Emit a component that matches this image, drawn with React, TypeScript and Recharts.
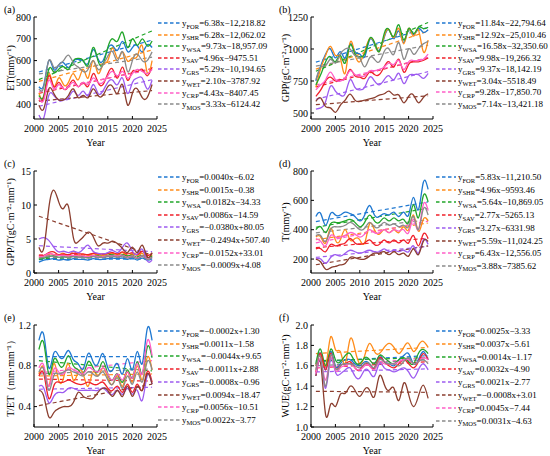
import { LineChart, Line, XAxis, YAxis, ReferenceLine } from 'recharts'

const FONT = '"Liberation Serif", "Times New Roman", serif'

const years = [2001, 2002, 2003, 2004, 2005, 2006, 2007, 2008, 2009, 2010, 2011, 2012, 2013, 2014, 2015, 2016, 2017, 2018, 2019, 2020, 2021, 2022, 2023, 2024]
const xTicks = [2000, 2005, 2010, 2015, 2020, 2025]
const types = ['FOR', 'SHR', 'WSA', 'SAV', 'GRS', 'WET', 'CRP', 'MOS']
const colors = ['#1f78d1', '#ff8c1a', '#22a62a', '#f0202a', '#9d5cf0', '#8b3e2f', '#ff5fc8', '#8a8a8a']

// (a) ET
const etFOR = [480, 490, 600, 560, 578, 590, 568, 598, 605, 598, 588, 650, 608, 598, 655, 668, 648, 688, 642, 660, 668, 640, 672, 660]
const etSHR = [452, 432, 540, 482, 520, 490, 500, 540, 512, 560, 520, 600, 542, 580, 600, 658, 610, 640, 598, 612, 620, 668, 545, 600]
const etWSA = [440, 440, 560, 548, 560, 572, 560, 600, 610, 600, 580, 660, 600, 582, 660, 700, 690, 730, 660, 700, 670, 700, 668, 690]
const etSAV = [420, 430, 530, 480, 500, 470, 482, 510, 480, 500, 482, 540, 500, 490, 540, 560, 520, 570, 510, 550, 550, 560, 530, 570]
const etGRS = [350, 338, 440, 440, 420, 420, 430, 460, 440, 460, 440, 490, 450, 460, 500, 510, 490, 520, 450, 500, 520, 520, 470, 510]
const etWET = [395, 380, 470, 450, 420, 420, 440, 470, 430, 440, 430, 470, 440, 440, 480, 480, 450, 490, 397, 450, 470, 430, 430, 490]
const etCRP = [430, 420, 510, 470, 490, 470, 480, 500, 480, 500, 490, 520, 500, 500, 530, 550, 530, 550, 520, 540, 560, 550, 540, 560]
const etMOS = [470, 480, 600, 570, 580, 600, 625, 590, 570, 550, 560, 600, 560, 580, 620, 640, 600, 640, 550, 600, 630, 600, 600, 640]
const etEq = ['=6.38x−12,218.82', '=6.28x−12,062.02', '=9.73x−18,957.09', '=4.96x−9475.51', '=5.29x−10,194.65', '=2.10x−3787.92', '=4.43x−8407.45', '=3.33x−6124.42']
const etTrendStart = [547.6, 504.3, 512.6, 449.5, 390.6, 414.2, 457.0, 538.9]
const etTrendEnd = [694.3, 648.7, 736.4, 563.5, 512.3, 462.5, 558.9, 615.5]

// (b) GPP
const gppFOR = [750, 870, 960, 1000, 930, 980, 930, 1040, 980, 960, 940, 1070, 1040, 990, 1090, 1150, 1080, 1140, 1050, 1150, 1110, 1160, 1130, 1150]
const gppSHR = [700, 850, 950, 1020, 950, 930, 810, 1050, 960, 900, 980, 1080, 1050, 980, 1100, 1150, 1090, 1160, 1040, 1160, 1100, 1150, 980, 1070]
const gppWSA = [720, 800, 900, 940, 900, 950, 890, 1030, 960, 940, 960, 1080, 1050, 980, 1120, 1150, 1100, 1190, 1070, 1160, 1120, 1170, 1160, 1170]
const gppSAV = [630, 680, 750, 780, 750, 760, 770, 840, 790, 780, 770, 820, 800, 800, 860, 900, 860, 920, 820, 880, 900, 900, 910, 930]
const gppGRS = [530, 540, 590, 710, 670, 640, 650, 760, 700, 680, 700, 780, 750, 720, 760, 790, 760, 810, 730, 790, 800, 800, 770, 810]
const gppWET = [590, 617, 550, 540, 505, 560, 600, 648, 600, 590, 600, 610, 620, 640, 650, 670, 640, 640, 580, 630, 640, 580, 620, 650]
const gppCRP = [680, 720, 760, 820, 760, 750, 770, 830, 800, 790, 790, 830, 830, 840, 860, 890, 880, 910, 840, 900, 910, 910, 920, 960]
const gppMOS = [760, 860, 870, 920, 890, 960, 1000, 1000, 950, 930, 860, 930, 920, 900, 980, 1000, 960, 1050, 920, 1000, 960, 1000, 1040, 1060]
const gppEq = ['=11.84x−22,794.64', '=12.92x−25,010.46', '=16.58x−32,350.60', '=9.98x−19,266.32', '=9.37x−18,142.19', '=3.04x−5518.49', '=9.28x−17,850.70', '=7.14x−13,421.18']
const gppTrendStart = [897.2, 842.5, 826.0, 703.7, 607.2, 564.6, 718.6, 866.0]
const gppTrendEnd = [1169.5, 1139.6, 1207.3, 933.2, 822.7, 634.5, 932.0, 1030.2]

// (c) GPP/T
const gptFOR = [1.6, 1.9, 2.0, 2.1, 1.9, 2.0, 1.9, 2.1, 2.0, 2.0, 1.9, 2.1, 2.0, 2.0, 2.1, 2.2, 2.1, 2.2, 2.0, 2.2, 1.9, 2.2, 1.9, 2.1]
const gptSHR = [2.3, 2.5, 2.8, 2.7, 2.6, 2.9, 2.4, 3.2, 2.6, 2.7, 2.6, 2.8, 2.7, 2.6, 2.8, 2.9, 2.7, 3.0, 2.5, 2.8, 2.6, 2.9, 2.3, 2.6]
const gptWSA = [2.0, 2.2, 2.4, 2.5, 2.3, 2.4, 2.3, 2.5, 2.4, 2.4, 2.3, 2.5, 2.5, 2.4, 2.6, 2.7, 2.5, 2.7, 2.5, 2.6, 2.3, 2.6, 2.2, 2.5]
const gptSAV = [2.5, 2.6, 3.0, 3.1, 2.7, 2.8, 2.7, 2.9, 2.8, 2.8, 2.7, 2.9, 2.8, 2.8, 2.9, 3.0, 2.8, 3.1, 2.8, 3.0, 2.7, 3.2, 2.6, 2.9]
const gptGRS = [5.0, 5.2, 4.8, 3.8, 3.1, 3.2, 3.0, 3.2, 3.0, 3.5, 4.1, 3.2, 2.9, 2.8, 3.0, 3.3, 3.0, 3.8, 4.4, 3.2, 2.8, 3.5, 1.8, 1.9]
const gptWET = [3.8, 3.7, 9.5, 12.2, 10.5, 9.5, 9.8, 5.2, 4.6, 5.3, 6.0, 5.4, 4.0, 4.4, 4.4, 4.7, 4.3, 3.6, 3.0, 3.8, 3.0, 4.1, 2.4, 3.0]
const gptCRP = [2.4, 2.5, 2.9, 2.7, 2.6, 2.6, 2.5, 2.6, 2.5, 2.5, 2.4, 2.6, 2.4, 2.4, 2.5, 2.6, 2.5, 2.6, 2.3, 2.5, 2.2, 2.5, 2.1, 2.3]
const gptMOS = [2.2, 2.3, 2.5, 2.4, 2.3, 2.4, 2.3, 2.4, 2.3, 2.3, 2.2, 2.4, 2.3, 2.3, 2.4, 2.5, 2.3, 2.5, 2.2, 2.4, 2.1, 2.4, 2.0, 2.3]
const gptEq = ['=0.0040x−6.02', '=0.0015x−0.38', '=0.0182x−34.33', '=0.0086x−14.59', '=−0.0380x+80.05', '=−0.2494x+507.40', '=−0.0152x+33.01', '=−0.0009x+4.08']
const gptTrendStart = [1.98, 2.62, 2.09, 2.62, 4.01, 8.35, 2.6, 2.28]
const gptTrendEnd = [2.08, 2.66, 2.51, 2.82, 3.14, 2.61, 2.25, 2.26]

// (d) T
const tFOR = [490, 510, 430, 510, 500, 500, 520, 510, 490, 460, 500, 565, 500, 490, 510, 500, 520, 490, 520, 500, 620, 535, 720, 675]
const tSHR = [350, 350, 310, 410, 330, 330, 400, 330, 340, 330, 310, 440, 400, 370, 400, 380, 400, 380, 420, 400, 500, 390, 470, 460]
const tWSA = [400, 420, 380, 440, 450, 450, 460, 470, 450, 420, 450, 500, 460, 450, 480, 460, 480, 460, 470, 450, 570, 480, 630, 590]
const tSAV = [270, 270, 250, 300, 290, 300, 310, 340, 310, 300, 310, 330, 300, 300, 330, 310, 330, 310, 330, 310, 360, 290, 370, 340]
const tGRS = [200, 200, 170, 210, 230, 220, 240, 260, 250, 240, 250, 260, 250, 250, 270, 250, 260, 250, 260, 250, 290, 240, 330, 300]
const tWET = [200, 180, 130, 140, 150, 160, 170, 210, 210, 200, 200, 220, 240, 240, 250, 230, 250, 230, 240, 220, 270, 230, 320, 320]
const tCRP = [340, 320, 290, 360, 350, 350, 360, 380, 370, 350, 370, 400, 380, 380, 400, 380, 400, 390, 400, 380, 470, 400, 570, 530]
const tMOS = [360, 360, 320, 400, 420, 420, 430, 450, 430, 400, 410, 450, 420, 420, 450, 430, 440, 420, 430, 420, 490, 400, 540, 500]
const tEq = ['=5.83x−11,210.50', '=4.96x−9593.46', '=5.64x−10,869.05', '=2.77x−5265.13', '=3.27x−6331.98', '=5.59x−11,024.25', '=6.43x−12,556.05', '=3.88x−7385.62']
const tTrendStart = [455.3, 331.5, 416.6, 277.6, 211.3, 161.3, 310.4, 378.3]
const tTrendEnd = [589.4, 445.6, 546.3, 341.4, 286.5, 289.9, 458.3, 467.5]

// (e) T/ET
const tetFOR = [1.05, 1.1, 0.78, 0.92, 0.9, 0.88, 0.95, 0.86, 0.82, 0.77, 0.92, 0.84, 0.82, 0.92, 0.78, 0.76, 0.82, 0.72, 0.87, 0.76, 0.94, 0.82, 1.16, 1.05]
const tetSHR = [0.72, 0.78, 0.6, 0.82, 0.66, 0.68, 0.82, 0.66, 0.74, 0.72, 0.6, 0.74, 0.7, 0.78, 0.68, 0.62, 0.7, 0.6, 0.74, 0.64, 0.8, 0.66, 0.88, 0.76]
const tetWSA = [0.96, 1.02, 0.72, 0.86, 0.82, 0.8, 0.9, 0.8, 0.76, 0.72, 0.84, 0.78, 0.74, 0.84, 0.72, 0.66, 0.72, 0.64, 0.76, 0.68, 0.84, 0.72, 0.98, 0.88]
const tetSAV = [0.7, 0.72, 0.48, 0.6, 0.64, 0.64, 0.66, 0.64, 0.62, 0.62, 0.64, 0.62, 0.62, 0.64, 0.58, 0.56, 0.6, 0.54, 0.62, 0.54, 0.62, 0.56, 0.74, 0.64]
const tetGRS = [0.6, 0.58, 0.44, 0.5, 0.54, 0.54, 0.58, 0.58, 0.56, 0.56, 0.56, 0.56, 0.56, 0.58, 0.54, 0.52, 0.56, 0.52, 0.58, 0.52, 0.56, 0.46, 0.7, 0.62]
const tetWET = [0.56, 0.5, 0.3, 0.34, 0.38, 0.4, 0.4, 0.44, 0.54, 0.5, 0.48, 0.48, 0.54, 0.58, 0.56, 0.5, 0.56, 0.5, 0.6, 0.5, 0.6, 0.56, 0.72, 0.62]
const tetCRP = [0.78, 0.8, 0.6, 0.76, 0.74, 0.72, 0.78, 0.76, 0.74, 0.72, 0.78, 0.76, 0.74, 0.78, 0.72, 0.66, 0.72, 0.66, 0.74, 0.68, 0.82, 0.72, 1.04, 0.9]
const tetMOS = [0.74, 0.76, 0.56, 0.7, 0.72, 0.74, 0.76, 0.74, 0.72, 0.7, 0.74, 0.72, 0.7, 0.74, 0.66, 0.62, 0.68, 0.58, 0.7, 0.62, 0.74, 0.64, 0.84, 0.76]
const tetEq = ['=−0.0002x+1.30', '=0.0011x−1.58', '=−0.0044x+9.65', '=−0.0011x+2.88', '=−0.0008x−0.96', '=0.0094x−18.47', '=0.0056x−10.51', '=0.0022x−3.77']
const tetTrendStart = [0.89, 0.7, 0.85, 0.67, 0.57, 0.41, 0.73, 0.72]
const tetTrendEnd = [0.89, 0.72, 0.75, 0.65, 0.59, 0.62, 0.85, 0.77]

// (f) WUE
const wueFOR = [1.6, 1.72, 1.56, 1.74, 1.6, 1.62, 1.66, 1.66, 1.62, 1.6, 1.64, 1.62, 1.58, 1.7, 1.64, 1.62, 1.6, 1.66, 1.7, 1.72, 1.62, 1.66, 1.74, 1.66]
const wueSHR = [1.6, 1.7, 1.6, 1.88, 1.76, 1.74, 1.62, 1.86, 1.76, 1.62, 1.7, 1.82, 1.74, 1.72, 1.78, 1.82, 1.78, 1.72, 1.78, 1.82, 1.74, 1.8, 1.84, 1.78]
const wueWSA = [1.62, 1.76, 1.6, 1.76, 1.66, 1.64, 1.7, 1.72, 1.64, 1.62, 1.68, 1.66, 1.62, 1.7, 1.68, 1.64, 1.62, 1.66, 1.68, 1.64, 1.62, 1.72, 1.76, 1.72]
const wueSAV = [1.54, 1.72, 1.56, 1.72, 1.58, 1.6, 1.62, 1.64, 1.58, 1.56, 1.62, 1.6, 1.58, 1.68, 1.64, 1.6, 1.58, 1.62, 1.66, 1.62, 1.58, 1.64, 1.72, 1.66]
const wueGRS = [1.5, 1.64, 1.38, 1.66, 1.54, 1.52, 1.56, 1.58, 1.5, 1.48, 1.56, 1.54, 1.5, 1.62, 1.58, 1.56, 1.54, 1.56, 1.58, 1.54, 1.48, 1.56, 1.62, 1.56]
const wueWET = [1.5, 1.62, 1.12, 1.22, 1.2, 1.32, 1.33, 1.4, 1.36, 1.3, 1.37, 1.36, 1.3, 1.5, 1.42, 1.36, 1.38, 1.26, 1.43, 1.32, 1.2, 1.3, 1.41, 1.28]
const wueCRP = [1.52, 1.66, 1.46, 1.68, 1.56, 1.58, 1.6, 1.62, 1.58, 1.56, 1.6, 1.6, 1.56, 1.64, 1.62, 1.62, 1.62, 1.64, 1.66, 1.66, 1.62, 1.64, 1.68, 1.66]
const wueMOS = [1.56, 1.68, 1.4, 1.7, 1.58, 1.6, 1.62, 1.62, 1.6, 1.58, 1.62, 1.62, 1.58, 1.66, 1.64, 1.62, 1.62, 1.6, 1.64, 1.68, 1.62, 1.64, 1.66, 1.62]
const wueEq = ['=0.0025x−3.33', '=0.0037x−5.61', '=0.0014x−1.17', '=0.0032x−4.90', '=0.0021x−2.77', '=−0.0008x+3.01', '=0.0045x−7.44', '=0.0031x−4.63']
const wueTrendStart = [1.64, 1.72, 1.65, 1.58, 1.54, 1.35, 1.58, 1.6]
const wueTrendEnd = [1.7, 1.78, 1.68, 1.64, 1.57, 1.34, 1.68, 1.66]

const panels = [
  { tag: '(a)', yLabel: 'ET(mmy⁻¹)', series: [etFOR, etSHR, etWSA, etSAV, etGRS, etWET, etCRP, etMOS], eq: etEq, t0: etTrendStart, t1: etTrendEnd, domain: [332, 800], ticks: [400, 500, 600, 700, 800], digits: 0, left: 0, top: 0, gap: 11.6 },
  { tag: '(b)', yLabel: 'GPP(gC·m⁻²·y⁻¹)', series: [gppFOR, gppSHR, gppWSA, gppSAV, gppGRS, gppWET, gppCRP, gppMOS], eq: gppEq, t0: gppTrendStart, t1: gppTrendEnd, domain: [453, 1250], ticks: [500, 750, 1000, 1250], digits: 0, left: 275, top: 0, gap: 11.5 },
  { tag: '(c)', yLabel: 'GPP/T(gC·m⁻²·mm⁻¹)', series: [gptFOR, gptSHR, gptWSA, gptSAV, gptGRS, gptWET, gptCRP, gptMOS], eq: gptEq, t0: gptTrendStart, t1: gptTrendEnd, domain: [0, 15], ticks: [0, 5, 10, 15], digits: 0, left: 0, top: 154, gap: 12.6 },
  { tag: '(d)', yLabel: 'T(mmy⁻¹)', series: [tFOR, tSHR, tWSA, tSAV, tGRS, tWET, tCRP, tMOS], eq: tEq, t0: tTrendStart, t1: tTrendEnd, domain: [105, 800], ticks: [200, 400, 600, 800], digits: 0, left: 275, top: 154, gap: 12.7 },
  { tag: '(e)', yLabel: 'T/ET（mm·mm⁻¹）', series: [tetFOR, tetSHR, tetWSA, tetSAV, tetGRS, tetWET, tetCRP, tetMOS], eq: tetEq, t0: tetTrendStart, t1: tetTrendEnd, domain: [0.2, 1.2], ticks: [0.4, 0.8, 1.2], digits: 1, left: 0, top: 308, gap: 12.7 },
  { tag: '(f)', yLabel: 'WUE(gC·m⁻²·mm⁻¹)', series: [wueFOR, wueSHR, wueWSA, wueSAV, wueGRS, wueWET, wueCRP, wueMOS], eq: wueEq, t0: wueTrendStart, t1: wueTrendEnd, domain: [1, 2], ticks: [1.0, 1.2, 1.4, 1.6, 1.8, 2.0], digits: 1, left: 275, top: 308, gap: 12.8 },
]

const PLOT_TOP = 17
const PLOT_H = 102

function Panel({ p }: { p: (typeof panels)[number] }) {
  const isRight = p.left > 0
  const axisW = isRight ? 36 : 34
  const plotW = isRight ? 122 : 123
  const data = years.map((year, i) => {
    const row: Record<string, number> = { year }
    types.forEach((t, k) => (row[t] = p.series[k][i]))
    return row
  })
  const tickStyle = { fontSize: 10, fill: '#000', fontFamily: FONT }
  const legendX = isRight ? 161 : 158
  const dashW = isRight ? 20 : 22

  return (
    <div style={{ position: 'absolute', left: p.left, top: p.top }}>
      <div style={{ position: 'absolute', left: 4, top: 4, fontSize: 10, fontFamily: FONT }}>{p.tag}</div>
      <LineChart
        width={axisW + plotW + 12}
        height={PLOT_TOP + PLOT_H + 29}
        data={data}
        margin={{ top: PLOT_TOP, right: 12, bottom: 0, left: 0 }}
      >
        <XAxis
          dataKey='year'
          type='number'
          domain={[2000, 2025]}
          ticks={xTicks}
          interval={0}
          height={29}
          tickSize={-3}
          tickMargin={9}
          tick={tickStyle}
          stroke='#000'
          allowDataOverflow
          label={{ value: 'Year', position: 'insideBottom', offset: 2, fontSize: 10, fill: '#000', fontFamily: FONT }}
        />
        <YAxis
          type='number'
          domain={p.domain}
          ticks={p.ticks}
          interval={0}
          width={axisW}
          tickSize={-3}
          tickMargin={6}
          tick={tickStyle}
          stroke='#000'
          allowDataOverflow
          tickFormatter={(v: number) => v.toFixed(p.digits)}
          label={{
            content: () => (
              <text
                x={10}
                y={PLOT_TOP + PLOT_H / 2}
                transform={`rotate(-90 10 ${PLOT_TOP + PLOT_H / 2})`}
                textAnchor='middle'
                dominantBaseline='central'
                fontSize={10}
                fontFamily={FONT}
                fill='#000'
              >
                {p.yLabel}
              </text>
            ),
          }}
        />
        {types.map((t, k) => (
          <ReferenceLine
            key={'tr' + t}
            segment={[
              { x: 2001, y: p.t0[k] },
              { x: 2024, y: p.t1[k] },
            ]}
            stroke={colors[k]}
            strokeWidth={1.2}
            strokeDasharray='4 3'
            ifOverflow='visible'
          />
        ))}
        {types.map((t, k) => (
          <Line
            key={t}
            dataKey={t}
            type='natural'
            stroke={colors[k]}
            strokeWidth={1.3}
            dot={false}
            isAnimationActive={false}
          />
        ))}
      </LineChart>
      {types.map((t, k) => (
        <div
          key={'lg' + t}
          style={{
            position: 'absolute',
            left: legendX,
            top: 23 + k * p.gap - 7,
            height: 14,
            display: 'flex',
            alignItems: 'center',
            whiteSpace: 'nowrap',
            fontFamily: FONT,
            fontSize: 9,
            color: '#000',
          }}
        >
          <svg width={dashW} height={4} style={{ marginRight: 2 }}>
            <line x1={0} y1={2} x2={dashW} y2={2} stroke={colors[k]} strokeWidth={1.5} strokeDasharray='3.5 2.5' />
          </svg>
          <span>
            y<span style={{ fontSize: 6.5, position: 'relative', top: 2.5 }}>{t}</span>
            {p.eq[k]}
          </span>
        </div>
      ))}
    </div>
  )
}

export default function App() {
  return (
    <div style={{ position: 'absolute', left: 0, top: 0, width: 550, height: 456, background: '#fff', overflow: 'hidden' }}>
      {panels.map((p) => (
        <Panel key={p.tag} p={p} />
      ))}
    </div>
  )
}
